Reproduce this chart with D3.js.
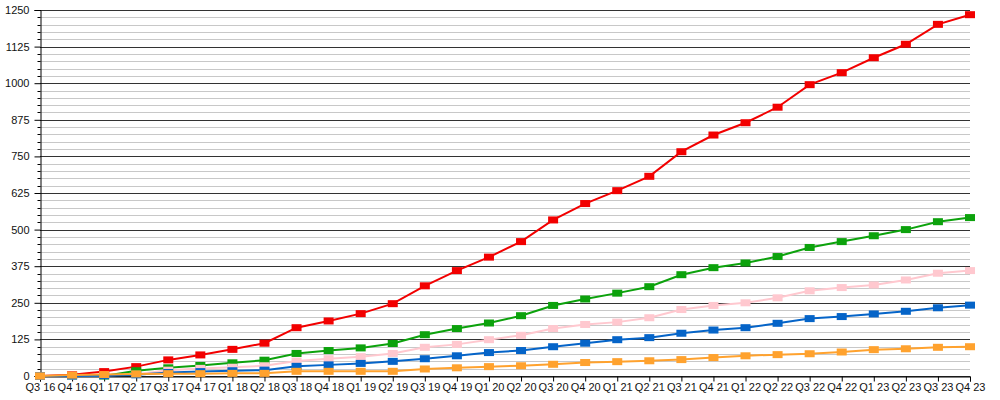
<!DOCTYPE html>
<html>
<head>
<meta charset="utf-8">
<script src="https://cdn.jsdelivr.net/npm/d3@7"></script>
<style>
  html, body { margin: 0; padding: 0; background: #fff; }
  svg { display: block; }
  text { font-family: "Liberation Sans", Arial, Helvetica, sans-serif; fill: #111; }
</style>
</head>
<body>
<svg id="chart" width="1000" height="400"></svg>
<script>
const quarters = ["Q3 16","Q4 16","Q1 17","Q2 17","Q3 17","Q4 17","Q1 18","Q2 18","Q3 18","Q4 18",
  "Q1 19","Q2 19","Q3 19","Q4 19","Q1 20","Q2 20","Q3 20","Q4 20","Q1 21","Q2 21",
  "Q3 21","Q4 21","Q1 22","Q2 22","Q3 22","Q4 22","Q1 23","Q2 23","Q3 23","Q4 23"];

const redValues    = [0, 4, 15, 32, 55, 72, 91, 112, 165, 188, 213, 247, 308, 360, 406, 459, 533, 589, 633, 682, 766, 823, 865, 918, 995, 1036, 1087, 1133, 1201, 1234];
const greenValues  = [0, 0, 0, 18, 28, 36, 45, 54, 77, 87, 96, 111, 141, 162, 181, 206, 241, 263, 283, 305, 346, 370, 386, 408, 439, 459, 479, 500, 527, 541];
const pinkValues   = [0, 0, 2, 6, 20, 26, 30, 35, 51, 59, 66, 77, 98, 108, 124, 139, 162, 176, 184, 199, 227, 241, 250, 267, 291, 302, 311, 328, 351, 360];
const blueValues   = [0, 0, 1, 4, 12, 15, 18, 20, 33, 38, 43, 50, 59, 69, 80, 87, 100, 112, 124, 131, 146, 157, 165, 180, 196, 203, 212, 221, 233, 242];
const orangeValues = [0, 3, 5, 7, 8, 8, 9, 9, 16, 16, 16, 16, 24, 28, 32, 35, 40, 46, 49, 52, 56, 63, 69, 73, 76, 82, 90, 93, 98, 100];

const yMajorTicks = [0, 125, 250, 375, 500, 625, 750, 875, 1000, 1125, 1250];

const series = [
  { name: "red",    color: "#f20000", values: redValues },
  { name: "green",  color: "#0ca20c", values: greenValues },
  { name: "pink",   color: "#ffc8cf", values: pinkValues },
  { name: "blue",   color: "#0564c8", values: blueValues },
  { name: "orange", color: "#ffa22e", values: orangeValues }
];

const svg = d3.select("#chart");
const mLeft = 40, mRight = 970, mTop = 10, mBottom = 376;

const x = d3.scalePoint().domain(quarters).range([mLeft, mRight]);
const y = d3.scaleLinear().domain([0, 1250]).range([mBottom, mTop]);

const minorTicks = d3.range(0, 1251, 25).filter(v => v % 125 !== 0);

// minor gridlines
svg.append("g").selectAll("line").data(minorTicks).join("line")
  .attr("x1", mLeft).attr("x2", mRight)
  .attr("y1", d => Math.round(y(d)) + 0.5).attr("y2", d => Math.round(y(d)) + 0.5)
  .attr("stroke", "#c8c8c8").attr("stroke-width", 1);

// major gridlines
svg.append("g").selectAll("line").data(yMajorTicks).join("line")
  .attr("x1", mLeft).attr("x2", mRight)
  .attr("y1", d => Math.round(y(d)) + 0.5).attr("y2", d => Math.round(y(d)) + 0.5)
  .attr("stroke", "#333").attr("stroke-width", 1);

// y axis
const yAxis = svg.append("g").attr("transform", `translate(${mLeft + 0.5},0)`);
yAxis.call(d3.axisLeft(y).tickValues(yMajorTicks).tickSize(6).tickPadding(5).tickFormat(d3.format("d")));
yAxis.select(".domain").attr("stroke", "#000");
yAxis.selectAll(".tick line").attr("stroke", "#000");
yAxis.selectAll("text").attr("font-size", 11).attr("fill", "#111")
  .attr("font-family", "'Liberation Sans', Arial, sans-serif");
yAxis.append("g").selectAll("line").data(minorTicks).join("line")
  .attr("x1", -3).attr("x2", 0)
  .attr("y1", d => Math.round(y(d)) + 0.5).attr("y2", d => Math.round(y(d)) + 0.5)
  .attr("stroke", "#000");

// x axis
const xAxis = svg.append("g").attr("transform", `translate(0,${mBottom + 0.5})`);
xAxis.call(d3.axisBottom(x).tickSize(5).tickPadding(2));
xAxis.select(".domain").attr("stroke", "#000");
xAxis.selectAll(".tick line").attr("stroke", "#000");
xAxis.selectAll("text").attr("font-size", 11).attr("fill", "#111")
  .attr("font-family", "'Liberation Sans', Arial, sans-serif");

// series
const line = d3.line().x((d, i) => x(quarters[i])).y(d => y(d));
const g = svg.append("g");
series.forEach(s => {
  g.append("path").datum(s.values)
    .attr("fill", "none").attr("stroke", s.color).attr("stroke-width", 2)
    .attr("d", line);
  g.append("g").selectAll("rect").data(s.values).join("rect")
    .attr("x", (d, i) => x(quarters[i]) - 5)
    .attr("y", d => y(d) - 3.5)
    .attr("width", 10).attr("height", 7)
    .attr("fill", s.color);
});
</script>
</body>
</html>
